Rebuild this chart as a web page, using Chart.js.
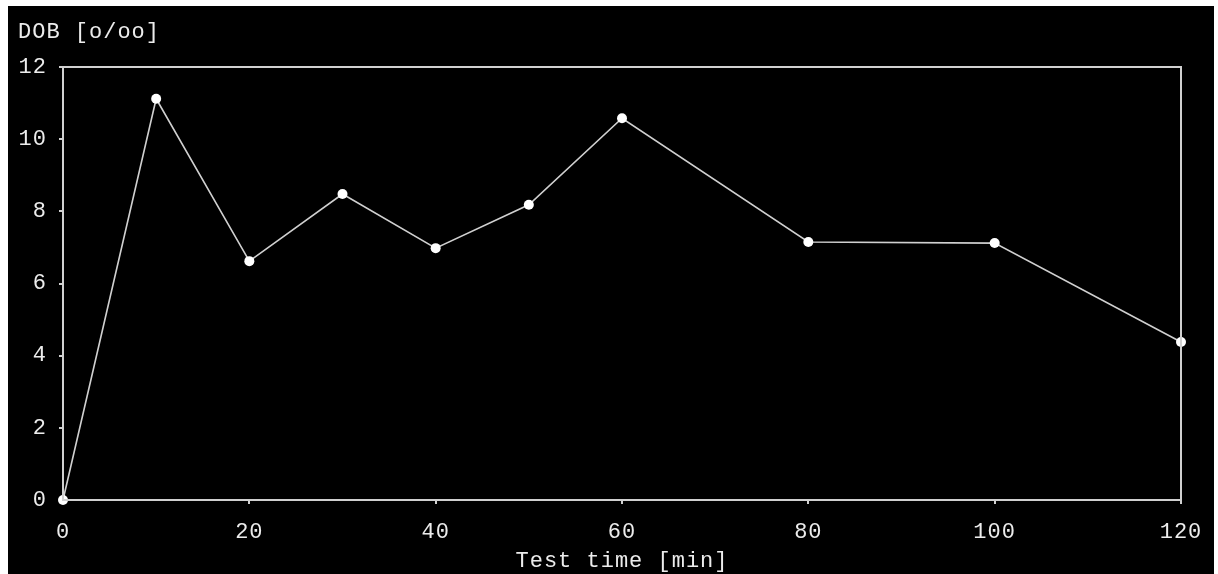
<!DOCTYPE html>
<html>
<head>
<meta charset="utf-8">
<script src="https://cdn.jsdelivr.net/npm/chart.js@4.4.1/dist/chart.umd.min.js"></script>
<style>
  html, body { margin: 0; padding: 0; background: #ffffff; }
  body { width: 1218px; height: 574px; overflow: hidden; position: relative; }
  #frame { position: absolute; left: 8px; top: 6px; width: 1206px; height: 568px; background: #000000; }
  #frame canvas { display: block; }
</style>
</head>
<body>
<div id="frame"><canvas id="c" width="1206" height="568"></canvas></div>
<script>
// Test times (minutes) and measured DOB values (per mille)
const testTimes = [0, 10, 20, 30, 40, 50, 60, 80, 100, 120];
const dobValues = [0, 11.12, 6.62, 8.48, 6.98, 8.18, 10.58, 7.15, 7.12, 4.38];
const xTicks = [0, 20, 40, 60, 80, 100, 120];
const yTicks = [0, 2, 4, 6, 8, 10, 12];
const yTitle = 'DOB [o/oo]';
const xTitle = 'Test time [min]';

const FONT = { family: '"Liberation Mono", "DejaVu Sans Mono", monospace', size: 22 };
const TEXT = '#ececec';
const LINE = '#d0d0d0';
const GAP = '1px';

// Wide, evenly spaced glyphs like a terminal font
const spacing = {
  id: 'spacing',
  beforeInit(chart) { chart.ctx.letterSpacing = GAP; },
  beforeUpdate(chart) { chart.ctx.letterSpacing = GAP; },
  beforeDraw(chart) { chart.ctx.letterSpacing = GAP; }
};

// Full box around the plotting area plus the vertical axis caption
const frame = {
  id: 'frame',
  afterDatasetsDraw(chart) {
    const { ctx, chartArea: a } = chart;
    ctx.save();
    ctx.strokeStyle = LINE;
    ctx.lineWidth = 2;
    ctx.strokeRect(a.left, a.top, a.right - a.left, a.bottom - a.top);
    ctx.restore();
  },
  afterDraw(chart) {
    const { ctx } = chart;
    ctx.save();
    ctx.letterSpacing = GAP;
    ctx.font = FONT.size + 'px ' + FONT.family;
    ctx.fillStyle = TEXT;
    ctx.textAlign = 'left';
    ctx.textBaseline = 'middle';
    ctx.fillText(yTitle, 10, 26);
    ctx.restore();
  }
};

new Chart(document.getElementById('c'), {
  type: 'line',
  data: {
    datasets: [{
      data: testTimes.map((t, i) => ({ x: t, y: dobValues[i] })),
      borderColor: LINE,
      borderWidth: 1.6,
      pointBackgroundColor: '#ffffff',
      pointBorderColor: '#ffffff',
      pointBorderWidth: 0,
      pointRadius: 5,
      tension: 0,
      clip: false
    }]
  },
  options: {
    responsive: false,
    animation: false,
    events: [],
    layout: { padding: { top: 61, right: 33, bottom: 0, left: 0 } },
    plugins: { legend: { display: false }, tooltip: { enabled: false }, title: { display: false } },
    scales: {
      x: {
        type: 'linear',
        min: 0, max: 120,
        afterFit(s) { s.height = 74; s.paddingLeft = 0; s.paddingRight = 0; },
        afterBuildTicks(s) { s.ticks = xTicks.map(v => ({ value: v })); },
        grid: { display: true, drawOnChartArea: false, drawTicks: true, tickLength: 4, color: LINE, lineWidth: 2 },
        border: { display: true, color: LINE, width: 2 },
        ticks: { color: TEXT, font: FONT, padding: 15, maxRotation: 0 },
        title: { display: true, text: xTitle, color: TEXT, font: FONT, padding: { top: 0, bottom: 0 } }
      },
      y: {
        type: 'linear',
        min: 0, max: 12,
        afterFit(s) { s.width = 55; s.paddingTop = 0; s.paddingBottom = 0; },
        afterBuildTicks(s) { s.ticks = yTicks.map(v => ({ value: v })); },
        grid: { display: true, drawOnChartArea: false, drawTicks: true, tickLength: 4, color: LINE, lineWidth: 2 },
        border: { display: true, color: LINE, width: 2 },
        ticks: { color: TEXT, font: FONT, padding: 12 }
      }
    }
  },
  plugins: [spacing, frame]
});
</script>
</body>
</html>
